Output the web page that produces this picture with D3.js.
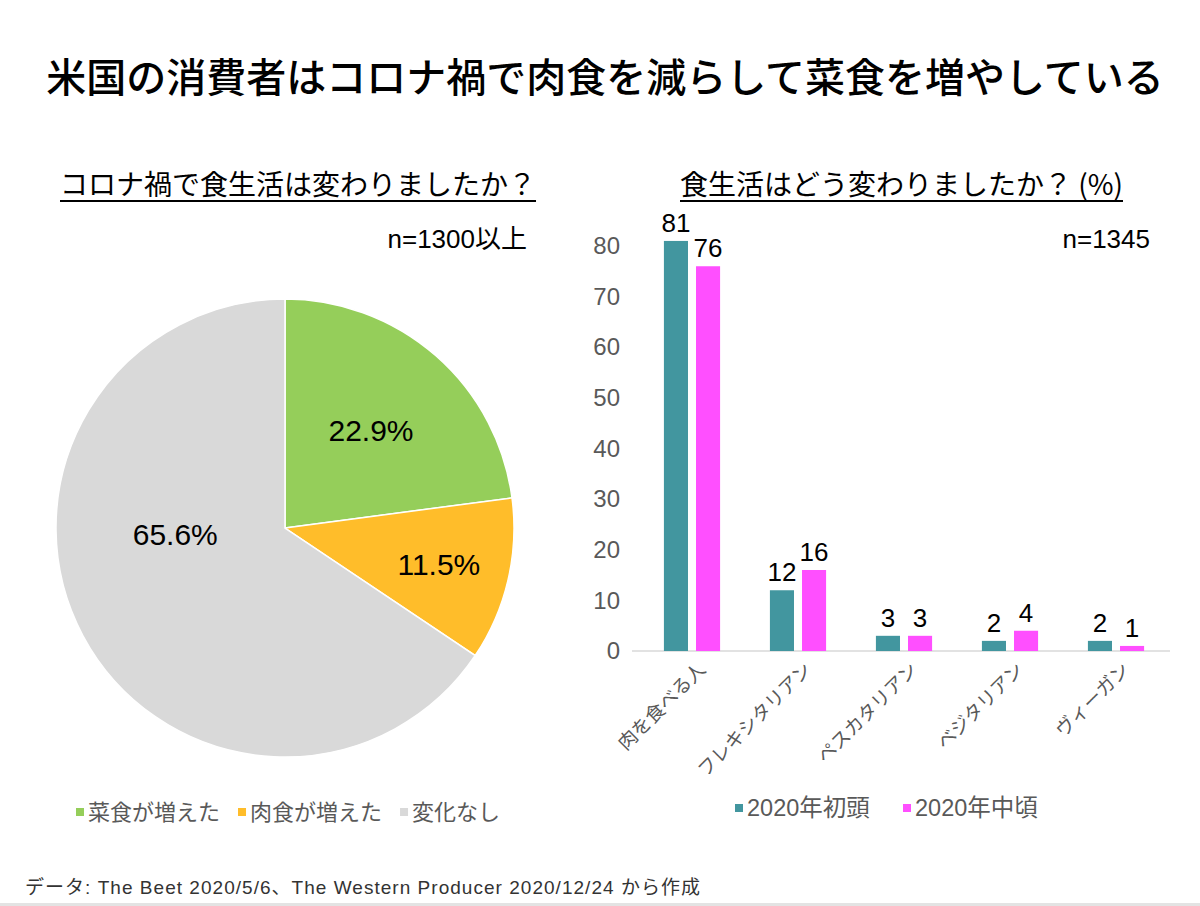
<!DOCTYPE html>
<html><head><meta charset="utf-8">
<script src="https://cdn.jsdelivr.net/npm/d3@7"></script>
<style>
body{margin:0;background:#fff;}
svg{display:block;font-family:"Liberation Sans","Noto Sans CJK JP",sans-serif;}
.jp{font-family:"Noto Sans CJK JP",sans-serif;}
</style></head>
<body><svg id="c" width="1200" height="906"></svg>
<script>
// ---- data ----
const title = "米国の消費者はコロナ禍で肉食を減らして菜食を増やしている";
const pieTitle = "コロナ禍で食生活は変わりましたか？";
const barTitle = "食生活はどう変わりましたか？ (%)";
const pieN = "n=1300以上";
const barN = "n=1345";
const pieCategories = ["菜食が増えた", "肉食が増えた", "変化なし"];
const pieValues = [22.9, 11.5, 65.6];
const pieColors = ["#95CE5A", "#FFBD2A", "#D9D9D9"];
const barCategories = ["肉を食べる人", "フレキシタリアン", "ペスカタリアン", "ベジタリアン", "ヴィーガン"];
const seriesNames = ["2020年初頭", "2020年中頃"];
const seriesEarly = [81, 12, 3, 2, 2];
const seriesMid = [76, 16, 3, 4, 1];
const seriesColors = ["#42969F", "#FF4FFF"];
const yTicks = [0, 10, 20, 30, 40, 50, 60, 70, 80];
const footer = "データ: The Beet 2020/5/6、The Western Producer 2020/12/24 から作成";

const svg = d3.select("#c");

// title
svg.append("text").attr("class","jp").attr("x",605).attr("y",92).attr("text-anchor","middle")
  .attr("font-size",40).attr("font-weight",500).attr("fill","#000").text(title);

// subtitles with underline
function subTitle(x, y, t){
  const tx = svg.append("text").attr("class","jp").attr("x",x).attr("y",y).attr("font-size",28)
    .attr("fill","#000").text(t);
  const tw = tx.node().getComputedTextLength();
  svg.append("line").attr("x1",x).attr("x2",x+tw).attr("y1",y+6).attr("y2",y+6)
    .attr("stroke","#000").attr("stroke-width",2);
}
subTitle(60, 195, pieTitle);
subTitle(680, 195, barTitle);

svg.append("text").attr("x",527).attr("y",248).attr("text-anchor","end").attr("font-size",26).text(pieN);
svg.append("text").attr("x",1150).attr("y",248).attr("text-anchor","end").attr("font-size",26).text(barN);

// ---- pie ----
const cx = 285, cy = 528, R = 229;
const pie = d3.pie().sort(null).value(d=>d)(pieValues);
const arc = d3.arc().innerRadius(0).outerRadius(R);
const pg = svg.append("g").attr("transform",`translate(${cx},${cy})`);
pg.selectAll("path").data(pie).join("path")
  .attr("d",arc).attr("fill",(d,i)=>pieColors[i]).attr("stroke","#fff").attr("stroke-width",1.5);
// label placement: radius fraction and angle tweak per slice
const labelR = [0.57, 0.69, 0.48];
const labelAngleShift = [0, 0, 25];
pg.selectAll("text.pl").data(pie).join("text").attr("class","pl")
  .attr("transform",(d,i)=>{
    const a = (d.startAngle+d.endAngle)/2 + labelAngleShift[i]*Math.PI/180;
    const r = R*labelR[i];
    return `translate(${r*Math.sin(a)},${-r*Math.cos(a)})`;
  })
  .attr("text-anchor","middle").attr("dy","0.36em").attr("font-size",30).attr("fill","#000")
  .text(d=>d.value.toFixed(1)+"%");

// pie legend
(function(){
  let x = 76; const y = 812;
  pieCategories.forEach((c,i)=>{
    svg.append("rect").attr("x",x).attr("y",y-4).attr("width",8).attr("height",8).attr("fill",pieColors[i]);
    const t = svg.append("text").attr("class","jp").attr("x",x+12).attr("y",y).attr("dy","0.36em")
      .attr("font-size",22).attr("fill","#595959").text(c);
    x += 12 + t.node().getComputedTextLength() + 18;
  });
})();

// ---- bar chart ----
const x0 = d3.scaleBand().domain(barCategories).range([639,1169]).paddingInner(0.47).paddingOuter(0.235);
const x1 = d3.scaleBand().domain(seriesNames).range([0, x0.bandwidth()]).paddingInner(0.25);
const y = d3.scaleLinear().domain([0,80]).range([651,246]);

const yAxis = svg.append("g").attr("transform","translate(620,0)")
  .call(d3.axisLeft(y).tickValues(yTicks).tickSize(0).tickPadding(0));
yAxis.select(".domain").remove();
yAxis.selectAll("text").attr("font-size",24).attr("fill","#595959")
  .attr("font-family","Liberation Sans, Arial, sans-serif");

svg.append("line").attr("x1",632).attr("x2",1170).attr("y1",y(0)).attr("y2",y(0))
  .attr("stroke","#D9D9D9").attr("stroke-width",1.5);

const seriesData = [seriesEarly, seriesMid];
const bg = svg.append("g");
barCategories.forEach((c,ci)=>{
  seriesNames.forEach((s,si)=>{
    const v = seriesData[si][ci];
    const bx = x0(c)+x1(s), bw = x1.bandwidth();
    bg.append("rect").attr("x",bx).attr("y",y(v)).attr("width",bw).attr("height",y(0)-y(v))
      .attr("fill",seriesColors[si]);
    bg.append("text").attr("x",bx+bw/2).attr("y",y(v)-9).attr("text-anchor","middle")
      .attr("font-size",26).attr("fill","#000").text(v);
  });
});

// x labels rotated
const xg = svg.append("g");
barCategories.forEach(c=>{
  const px = x0(c)+x0.bandwidth()/2 + 10, py = 666;
  xg.append("text").attr("class","jp").attr("transform",`translate(${px},${py}) rotate(-45)`)
    .attr("text-anchor","end").attr("dy","0.35em").attr("font-size",19).attr("fill","#595959").text(c);
});

// bar legend
(function(){
  const pos = [735, 903]; const yy = 808;
  seriesNames.forEach((s,i)=>{
    svg.append("rect").attr("x",pos[i]).attr("y",yy-4).attr("width",8).attr("height",8).attr("fill",seriesColors[i]);
    svg.append("text").attr("x",pos[i]+12).attr("y",yy).attr("dy","0.36em")
      .attr("font-size",23.5).attr("fill","#595959").text(s);
  });
})();

// footer
svg.append("text").attr("x",25).attr("y",894).attr("font-size",19).attr("fill","#333")
  .attr("textLength",675).attr("lengthAdjust","spacing").text(footer);
svg.append("rect").attr("x",0).attr("y",903).attr("width",1200).attr("height",3).attr("fill","#E3E3E3");
</script></body></html>
